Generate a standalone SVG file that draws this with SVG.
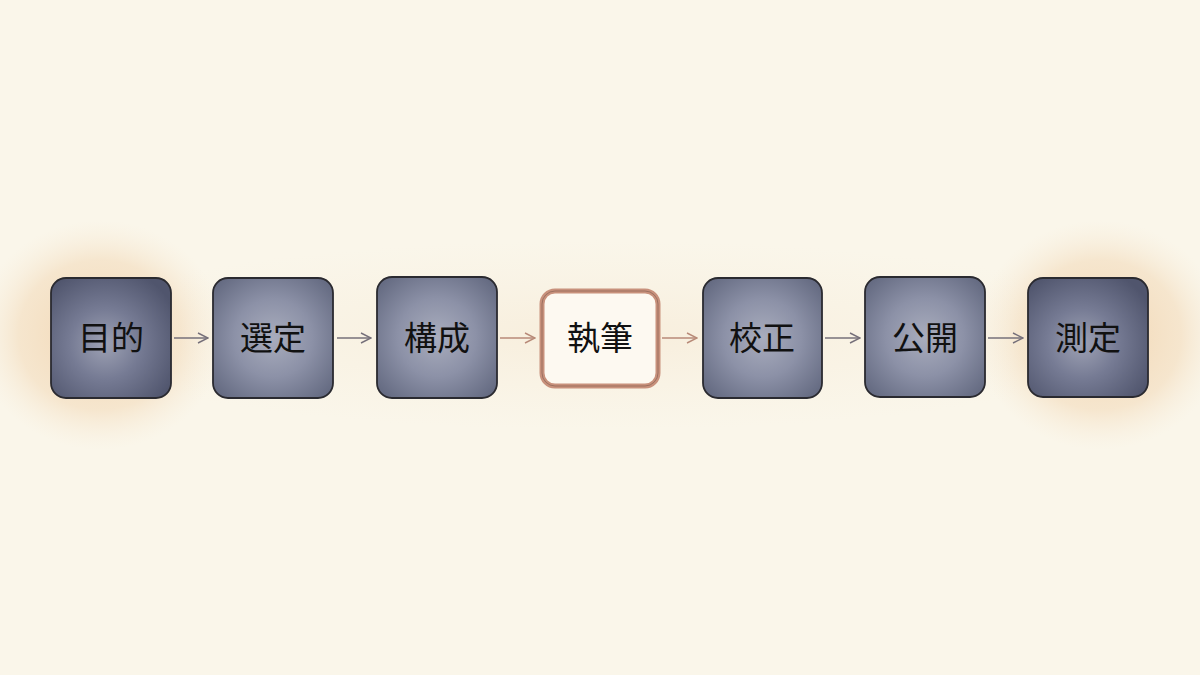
<svg xmlns="http://www.w3.org/2000/svg" width="1200" height="675" viewBox="0 0 1200 675">
<defs>
<radialGradient id="slate" cx="50%" cy="50%" r="65%">
<stop offset="0" stop-color="#a9adbd"/>
<stop offset="0.5" stop-color="#8c91a7"/>
<stop offset="1" stop-color="#646a81"/>
</radialGradient>
<radialGradient id="slateDark" cx="45%" cy="55%" r="65%">
<stop offset="0" stop-color="#9ea2b4"/>
<stop offset="0.45" stop-color="#767b94"/>
<stop offset="1" stop-color="#50556d"/>
</radialGradient>
<radialGradient id="glow" cx="50%" cy="50%" r="50%">
<stop offset="0" stop-color="#f1d3ae" stop-opacity="0.95"/>
<stop offset="0.65" stop-color="#f3dbbb" stop-opacity="0.6"/>
<stop offset="1" stop-color="#f7ead6" stop-opacity="0"/>
</radialGradient>
<radialGradient id="glowSoft" cx="50%" cy="50%" r="50%">
<stop offset="0" stop-color="#f5e6cf" stop-opacity="0.5"/>
<stop offset="1" stop-color="#f7ecd9" stop-opacity="0"/>
</radialGradient>
<marker id="ah" viewBox="0 0 12 12" refX="11" refY="6" markerWidth="12" markerHeight="12" markerUnits="userSpaceOnUse" orient="auto">
<path d="M1,1 L11,6 L1,11" fill="none" stroke="context-stroke" stroke-width="1.4"/>
</marker>
</defs>
<style>
.bg{fill:#faf6ea}
.box{stroke:#2a2a30;stroke-width:1.8}
.lbl{font-family:"Noto Sans CJK JP","Noto Sans CJK SC",sans-serif;font-size:33px;fill:#111;text-anchor:middle;dominant-baseline:central}
.arr{fill:none;stroke-width:1.5}
.gray{stroke:#76707a}
.tan{stroke:#b88a78}
</style>
<rect class="bg" width="1200" height="675"/>
<ellipse cx="100" cy="335" rx="125" ry="115" fill="url(#glow)"/>
<ellipse cx="1100" cy="335" rx="125" ry="115" fill="url(#glow)"/>
<ellipse cx="600" cy="335" rx="560" ry="95" fill="url(#glowSoft)"/>
<g id="connectors">
<line class="arr gray" x1="174" y1="338" x2="208" y2="338" marker-end="url(#ah)"/>
<line class="arr gray" x1="337" y1="338" x2="371" y2="338" marker-end="url(#ah)"/>
<line class="arr tan" x1="500" y1="338" x2="535" y2="338" marker-end="url(#ah)"/>
<line class="arr tan" x1="662" y1="338" x2="697" y2="338" marker-end="url(#ah)"/>
<line class="arr gray" x1="825" y1="338" x2="860" y2="338" marker-end="url(#ah)"/>
<line class="arr gray" x1="988" y1="338" x2="1023" y2="338" marker-end="url(#ah)"/>
</g>
<g id="node-mokuteki">
<rect class="box" x="51" y="278" width="120" height="120" rx="15" fill="url(#slateDark)"/>
<text class="lbl" x="111" y="336">目的</text>
</g>
<g id="node-sentei">
<rect class="box" x="213" y="278" width="120" height="120" rx="15" fill="url(#slate)"/>
<text class="lbl" x="273" y="336">選定</text>
</g>
<g id="node-kousei">
<rect class="box" x="377" y="277" width="120" height="121" rx="15" fill="url(#slate)"/>
<text class="lbl" x="437" y="336">構成</text>
</g>
<g id="node-shippitsu">
<rect x="542" y="291" width="116" height="95" rx="13" fill="#fdf9f1" stroke="#c8917c" stroke-width="5"/>
<rect x="542" y="291" width="116" height="95" rx="13" fill="none" stroke="#6a4a40" stroke-width="0.8" opacity="0.6"/>
<text class="lbl" x="600" y="336">執筆</text>
</g>
<g id="node-kousei2">
<rect class="box" x="703" y="278" width="119" height="120" rx="15" fill="url(#slate)"/>
<text class="lbl" x="762" y="336">校正</text>
</g>
<g id="node-koukai">
<rect class="box" x="865" y="277" width="120" height="120" rx="15" fill="url(#slate)"/>
<text class="lbl" x="925" y="336">公開</text>
</g>
<g id="node-sokutei">
<rect class="box" x="1028" y="278" width="120" height="119" rx="15" fill="url(#slateDark)"/>
<text class="lbl" x="1088" y="336">測定</text>
</g>
</svg>
